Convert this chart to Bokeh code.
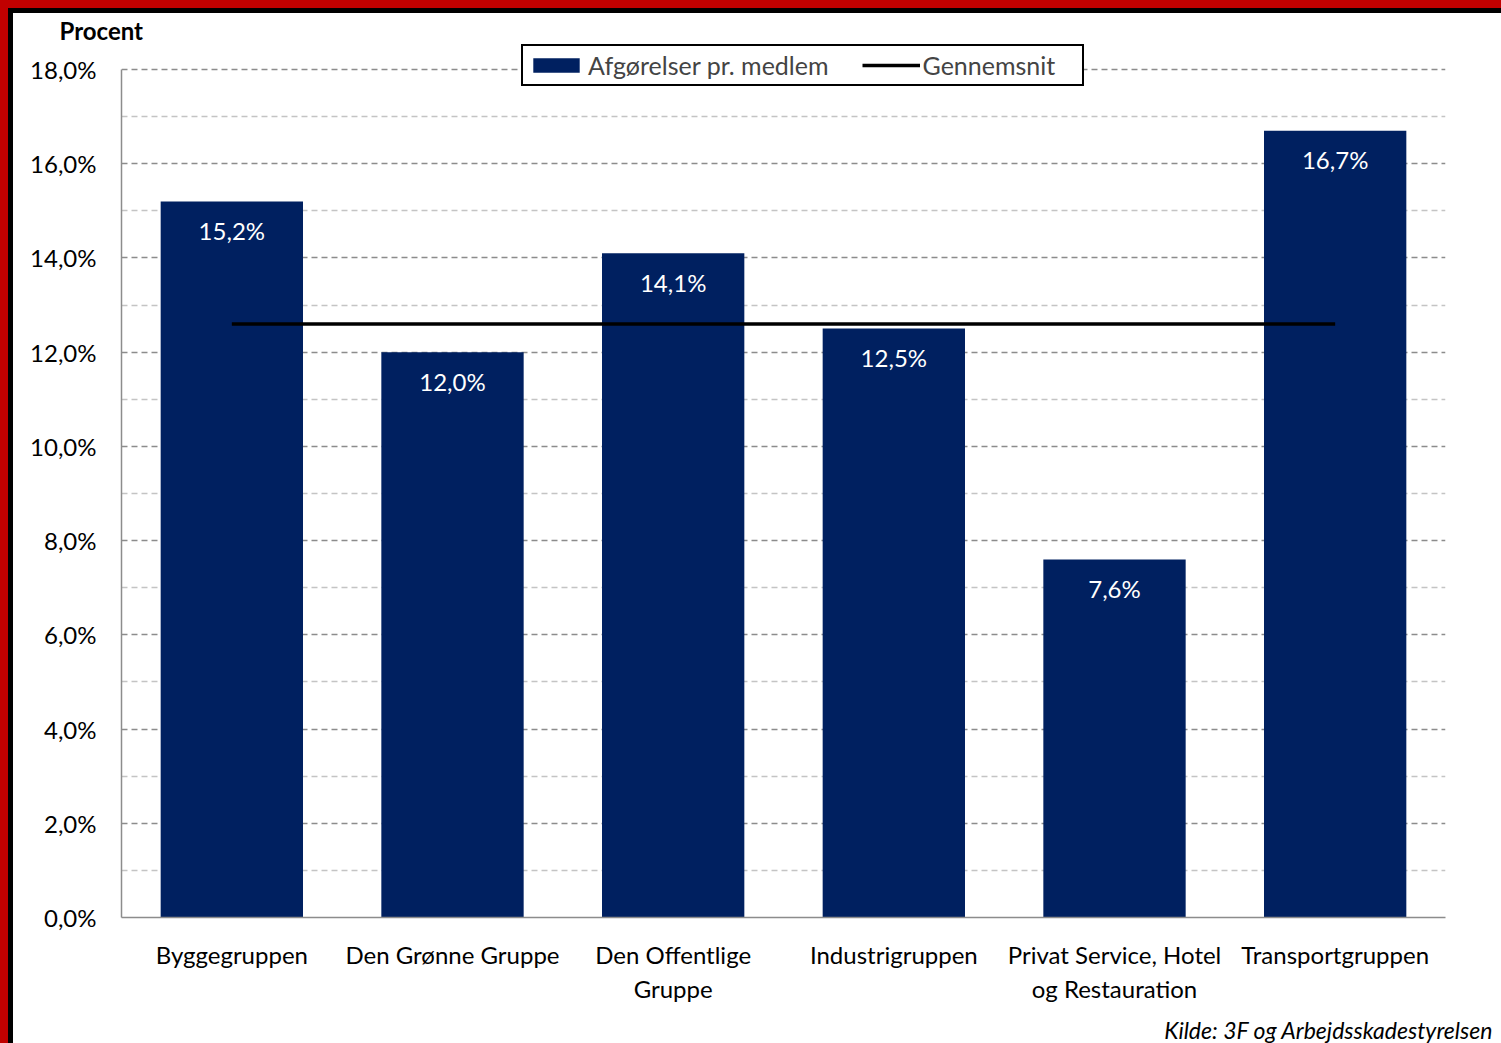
from bokeh.plotting import figure
from bokeh.models import (FactorRange, Range1d, FixedTicker, Legend, LegendItem,
                          Title, ColumnDataSource)
from bokeh.core.properties import value
from bokeh.embed import file_html
from bokeh.resources import INLINE

categories = ["Byggegruppen", "Den Grønne Gruppe", "Den Offentlige\nGruppe",
              "Industrigruppen", "Privat Service, Hotel\nog Restauration", "Transportgruppen"]
rates = [15.2, 12.0, 14.1, 12.5, 7.6, 16.7]
average = 12.6
y_ticks = [0, 2, 4, 6, 8, 10, 12, 14, 16, 18]
y_minor = [1, 3, 5, 7, 9, 11, 13, 15, 17]
y_tick_labels = ["0,0%", "2,0%", "4,0%", "6,0%", "8,0%", "10,0%", "12,0%", "14,0%", "16,0%", "18,0%"]

FONT = "Lato"
NAVY = "#002060"

p = figure(title="Procent",
           x_range=FactorRange(*categories, range_padding=0), y_range=Range1d(0, 18.53),
           frame_width=1324, frame_height=873,
           min_border_left=108, min_border_top=27, min_border_right=56, min_border_bottom=124,
           output_backend="svg", toolbar_location=None)
p.styles = {"border-left": "5px solid black", "border-top": "5px solid black",
            "background-color": "white"}
p.outline_line_color = None
p.background_fill_color = "white"
p.border_fill_color = "white"

p.title.align = "left"
p.title.offset = -62
p.title.standoff = 0
p.title.text_font = FONT
p.title.text_font_size = "24px"
p.title.text_font_style = "bold"
p.title.text_color = "black"

src = ColumnDataSource(dict(cat=categories, rate=rates,
                            label=[f"{v:.1f}%".replace(".", ",") for v in rates]))
bars = p.vbar(x="cat", top="rate", width=0.645, source=src, fill_color=NAVY, line_color=None)
p.text(x="cat", y="rate", text="label", source=src, y_offset=29,
       text_align="center", text_baseline="middle", text_color="white",
       text_font=value(FONT), text_font_size="24px")
avg_line = p.line(x=[categories[0], categories[-1]], y=[average, average],
                  line_color="black", line_width=3.5)

# grid
p.xgrid.grid_line_color = None
p.yaxis.ticker = FixedTicker(ticks=y_ticks, minor_ticks=y_minor)
p.ygrid.grid_line_color = "#8c8c8c"
p.ygrid.grid_line_dash = "6 4"
p.ygrid.grid_line_width = 1.5
p.ygrid.minor_grid_line_color = "#c4c4c4"
p.ygrid.minor_grid_line_dash = "6 4"
p.ygrid.minor_grid_line_width = 1.5

# axes
for ax in (p.xaxis[0], p.yaxis[0]):
    ax.axis_line_color = "#8c8c8c"
    ax.axis_line_width = 1.5
    ax.major_tick_line_color = None
    ax.minor_tick_line_color = None
    ax.major_label_text_font = FONT
    ax.major_label_text_font_size = "24px"
    ax.major_label_text_color = "black"
p.yaxis.bounds = (y_ticks[0], y_ticks[-1])
p.yaxis.major_label_overrides = {t: l for t, l in zip(y_ticks, y_tick_labels)}
p.yaxis.major_label_standoff = 19
p.xaxis.major_label_standoff = 16

# legend
legend = Legend(items=[LegendItem(label="Afgørelser pr. medlem", renderers=[bars]),
                       LegendItem(label="Gennemsnit", renderers=[avg_line])],
                orientation="horizontal", location=(400, 831),
                label_text_font=FONT, label_text_font_size="25px",
                glyph_width=58, glyph_height=18, label_height=24, label_width=155,
                label_standoff=3, spacing=33, padding=4, margin=0,
                border_line_color="black", border_line_width=2, border_line_alpha=1,
                background_fill_color="white", background_fill_alpha=1)
p.add_layout(legend)

p.add_layout(Title(text="Kilde: 3F og Arbejdsskadestyrelsen", align="right", offset=-48,
                   standoff=14, text_font=FONT, text_font_size="23px",
                   text_font_style="italic", text_color="black"), "below")

html = file_html(p, INLINE)
style = ("<style>html, body {margin:0 !important; padding:0 !important; "
         "background:#c00000 !important; overflow:hidden !important;} "
         "body {padding:8px 0 0 8px !important;}</style></head>")
html = html.replace("</head>", style, 1)
open("out.html", "w").write(html)
